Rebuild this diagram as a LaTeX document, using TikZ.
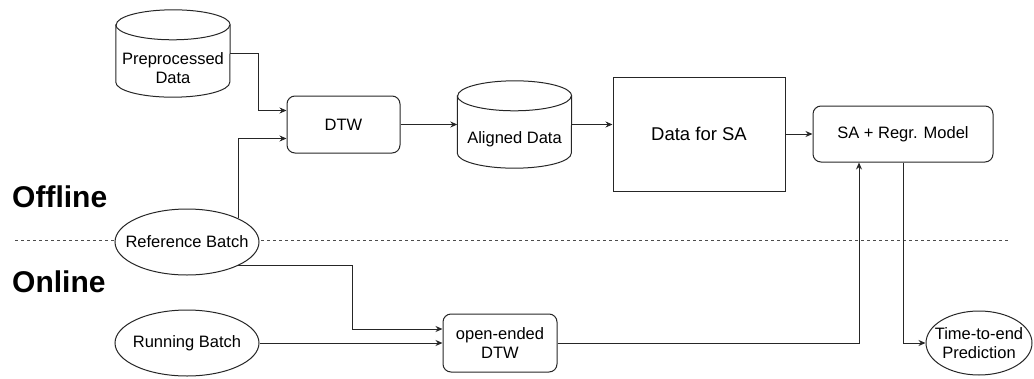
\documentclass[tikz,border=0pt]{standalone}
\usepackage{fontspec}
\setmainfont{Liberation Sans}
\usetikzlibrary{shapes.geometric,arrows.meta,calc}
\newcommand\drawcylinder[1]{%
  \draw[line] ([yshift=-15pt]#1.north west) -- ([yshift=15pt]#1.south west)
    arc[start angle=180,end angle=360,x radius=57pt,y radius=15pt]
    -- ([yshift=-15pt]#1.north east)
    arc[start angle=0,end angle=180,x radius=57pt,y radius=15pt] -- cycle;
  \draw[line] ([yshift=-15pt]#1.north west)
    arc[start angle=180,end angle=360,x radius=57pt,y radius=15pt];}
\begin{document}
\begin{tikzpicture}[x=1pt,y=1pt,
  every node/.style={font=\fontsize{16.5}{19.5}\selectfont, align=center},
  line/.style={line width=1pt, draw=black!85},
  arr/.style={line, -{Stealth[length=7pt,width=6pt]}},
  sepline/.style={line width=0.8pt, draw=black!70, dash pattern=on 3pt off 3pt},
  rbox/.style={draw=black!85, line width=1pt, rounded corners=8pt, minimum width=113pt, minimum height=57pt, inner sep=0pt},
  sbox/.style={draw=black!85, line width=1pt, minimum width=172pt, minimum height=114pt, inner sep=0pt},
  oval/.style={ellipse, draw=black!85, fill=white, line width=1pt, minimum width=144pt, minimum height=66pt, inner xsep=-14pt, inner ysep=0pt},
  cylarea/.style={minimum width=114pt, minimum height=87pt, inner sep=0pt},
  phase/.style={font=\fontsize{30}{35}\selectfont\bfseries, anchor=west, inner sep=0pt}
]
\useasboundingbox (0,0) rectangle (1034,-378);

% separator
\coordinate (sepL) at (15,-240);
\coordinate (sepR) at (1010,-240);
\draw[sepline] (sepL) -- (sepR);

% phase labels
\node[phase] (off) at (12,-197) {Offline};
\node[phase] (on) at (12,-282) {Online};

% offline nodes
\node[cylarea] (pre) at (173,-53.5) {};
\drawcylinder{pre}
\node (pretext) at (173,-68) {Preprocessed\\Data};

\node[rbox] (dtw) at (343.5,-124.5) {DTW};

\node[cylarea] (al) at (514.5,-124.5) {};
\drawcylinder{al}
\node (altext) at (514.5,-139) {Aligned Data};

\node[sbox, font=\fontsize{18.5}{22}\selectfont] (dsa) at (699,-134) {Data for SA};
\node[rbox, minimum width=180pt, minimum height=56pt] (sa) at (903,-134) {SA + Regr. Model};

\node[oval] (ref) at (187,-242) {Reference Batch};

% online nodes
\node[oval] (run) at (187,-343) {Running Batch};
\node[rbox, minimum width=114pt, minimum height=58pt] (oe) at (500,-343) {open-ended\\DTW};
\node[oval, minimum width=106pt, minimum height=64pt, inner xsep=-8pt] (tte) at (979,-343) {Time-to-end\\Prediction};

% connectors
\draw[arr] (pre.east) -- ++(28,0) |- ([yshift=14pt]dtw.west);
\draw[arr] (ref.north east) |- ([yshift=-14pt]dtw.west);
\draw[arr] (dtw.east) -- (al.west);
\draw[arr] (al.east) -- (al.east -| dsa.west);
\draw[arr] (dsa.east) -- (sa.west);
\draw[arr] (ref.south east) -- ++(114,0) |- ([yshift=14pt]oe.west);
\draw[arr] (run.east) -- (oe.west);
\draw[arr] (oe.east) -| ([xshift=-44pt]sa.south);
\draw[arr] (sa.south) |- (tte.west);
\end{tikzpicture}
\end{document}
